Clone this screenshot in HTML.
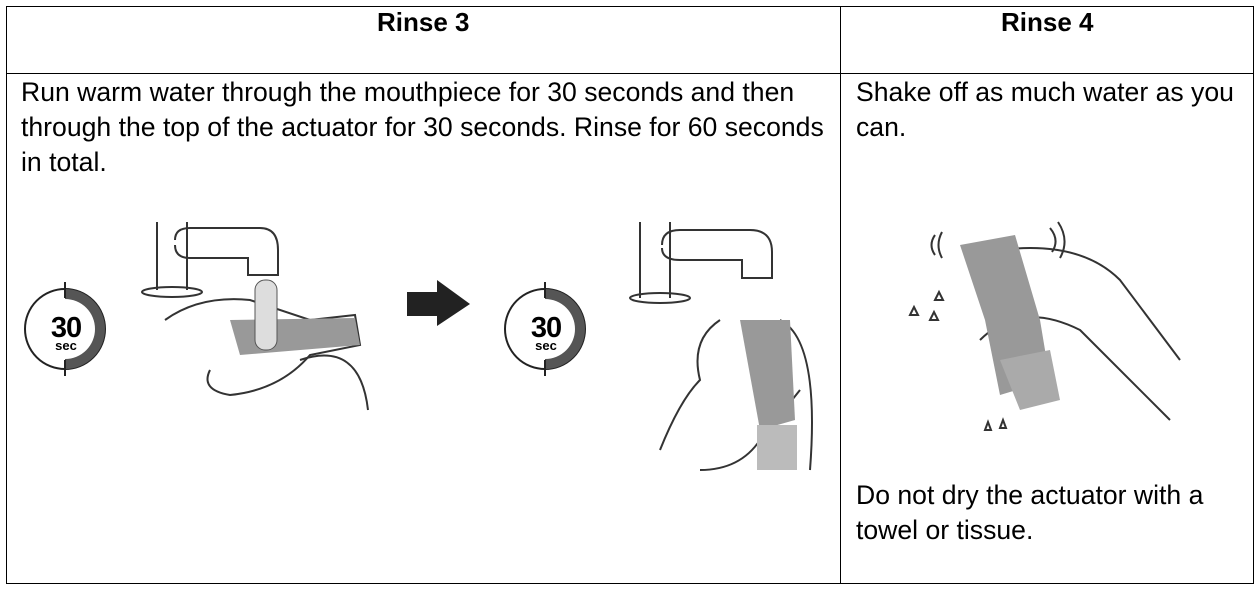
<!DOCTYPE html>
<html><head><style>
body{margin:0;width:1260px;height:591px;background:#fff;position:relative;font-family:"Liberation Sans",Arial,sans-serif;overflow:hidden}
.t{position:absolute;font-size:26.6px;color:#000;line-height:35px;white-space:nowrap}
.h{position:absolute;font-size:26px;font-weight:bold;top:6px;line-height:32px}
</style></head><body>
<svg width="1260" height="591" style="position:absolute;left:0;top:0">
<g stroke="#000" stroke-width="1" fill="none">
<rect x="6.5" y="6.5" width="1247" height="577"/>
<line x1="840.5" y1="6" x2="840.5" y2="584"/>
<line x1="6" y1="73.5" x2="1254" y2="73.5"/>
</g>
<g id="tm">
<circle cx="65" cy="329" r="40" fill="#fff" stroke="#222" stroke-width="2"/>
<path d="M65 289 A40 40 0 0 1 65 369 L65 359 A30 30 0 0 0 65 299 Z" fill="#555"/>
<line x1="65" y1="282" x2="65" y2="298" stroke="#222" stroke-width="2"/>
<line x1="65" y1="360" x2="65" y2="376" stroke="#222" stroke-width="2"/>
<text x="66" y="337" font-size="29" font-weight="bold" text-anchor="middle" font-family="Liberation Sans" letter-spacing="-1">30</text>
<text x="66" y="350" font-size="13" font-weight="bold" text-anchor="middle" font-family="Liberation Sans">sec</text>
</g>
<use href="#tm" transform="translate(480,0)"/>
<path d="M407 292 L437 292 L437 280 L470 304 L437 326 L437 316 L407 316 Z" fill="#222"/>
<g stroke="#333" stroke-width="2" fill="none">
<path d="M157 222 L157 290 M187 222 L187 290"/>
<ellipse cx="172" cy="292" rx="30" ry="5"/>
<path d="M175 240 Q175 228 190 228 L260 228 Q278 228 278 250 L278 275 L248 275 L248 258 L190 258 Q175 258 175 245"/>
<path d="M165 320 Q200 295 250 300 L310 320 L355 315 L360 345 L310 355 Q280 390 230 395 Q200 390 210 370"/>
<path d="M300 360 Q360 340 368 410"/>
</g>
<path d="M230 320 L355 318 L360 345 L240 355 Z" fill="#999"/>
<rect x="255" y="280" width="22" height="70" rx="10" fill="#ddd" stroke="#555"/>
<g stroke="#333" stroke-width="2" fill="none">
<path d="M640 222 L640 298 M670 222 L670 298"/>
<ellipse cx="660" cy="298" rx="30" ry="5"/>
<path d="M662 245 Q662 230 680 230 L750 230 Q772 230 772 252 L772 278 L742 278 L742 260 L680 260 Q662 260 662 248"/>
<path d="M720 320 Q690 340 700 380 Q680 400 660 450 M700 470 Q740 470 760 440 L800 390"/>
<path d="M780 320 Q820 340 810 470"/>
</g>
<path d="M740 320 L790 320 L795 420 L760 430 Z" fill="#999"/>
<rect x="757" y="425" width="40" height="45" fill="#bbb"/>
<g stroke="#333" stroke-width="2" fill="none">
<path d="M935 235 Q928 245 935 255 M942 232 Q935 245 942 258"/>
<path d="M1050 228 Q1060 240 1052 252 M1058 222 Q1070 240 1060 258"/>
<path d="M1000 250 Q1080 240 1120 280 L1180 360 M980 340 Q1020 300 1080 330 L1170 420"/>
<path d="M910 315 l4 -8 4 8 z M930 320 l4 -8 4 8z M935 300 l4 -8 4 8z M985 430 l3 -8 3 8z M1000 428 l3 -8 3 8z"/>
</g>
<path d="M960 245 L1015 235 L1040 320 L1050 380 L1000 395 L985 320 Z" fill="#999"/>
<path d="M1000 360 L1050 350 L1060 400 L1020 410 Z" fill="#aaa"/>
</svg>
<div class="h" style="left:377px">Rinse 3</div>
<div class="h" style="left:1001px">Rinse 4</div>
<div class="t" style="left:21px;top:75px">Run warm water through the mouthpiece for 30 seconds and then<br>through the top of the actuator for 30 seconds. Rinse for 60 seconds<br>in total.</div>
<div class="t" style="left:856px;top:75px">Shake off as much water as you<br>can.</div>
<div class="t" style="left:856px;top:478px">Do not dry the actuator with a<br>towel or tissue.</div>
</body></html>
